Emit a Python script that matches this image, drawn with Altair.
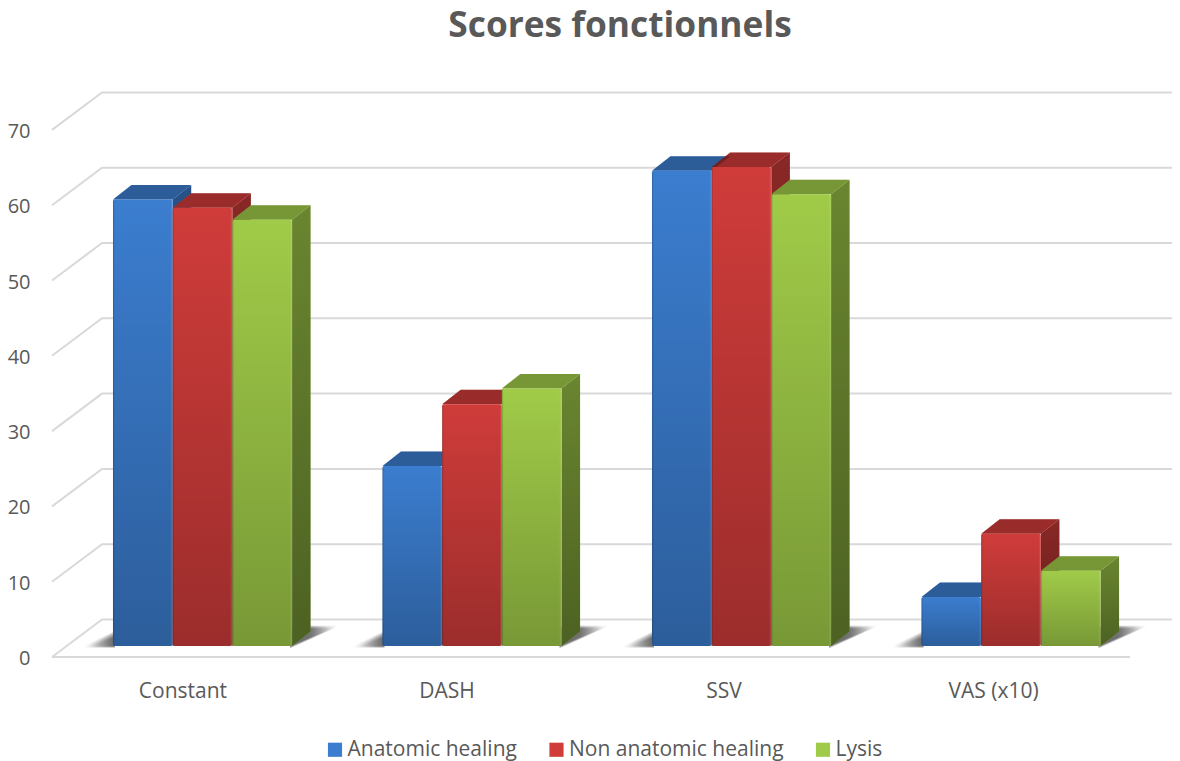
import altair as alt
import pandas as pd

categories = ["Constant", "DASH", "SSV", "VAS (x10)"]
series = ["Anatomic healing", "Non anatomic healing", "Lysis"]
anatomic = [59.3, 23.9, 63.1, 6.5]
non_anatomic = [58.2, 32.1, 63.6, 14.9]
lysis = [56.6, 34.2, 60.0, 10.0]
colors = ["#3B7DCF", "#CF3C3A", "#A0CB48"]
grid_values = [0, 10, 20, 30, 40, 50, 60, 70]
label_positions = [0.484, 1.464, 2.492, 3.492]

FONT = "Open Sans"
TEXT = "#595959"
PX_X = 269.5      # pixels per category
PX_Y = 7.53       # pixels per score unit
VIEW_W, VIEW_H = 1120, 589
START, BAR_W = 0.2263, 0.2215
DX, DY = 18.5 / PX_X, 14.5 / PX_Y     # bar depth
BASE = 11 / PX_Y                      # bar base above the front floor edge
WALL_X, WALL_Y = 50 / PX_X, 37.5 / PX_Y

x_scale = alt.Scale(domain=[0, VIEW_W / PX_X], nice=False, zero=False)
y_scale = alt.Scale(domain=[0, VIEW_H / PX_Y], nice=False, zero=False)
color_scale = alt.Scale(domain=series, range=colors)

label_expr = (
    "datum.value < 1 ? 'Constant' : datum.value < 2 ? 'DASH' : "
    "datum.value < 3 ? 'SSV' : 'VAS (x10)'"
)
x_axis = alt.Axis(
    values=label_positions, labelExpr=label_expr, domain=False, ticks=False, grid=False,
    labelFont=FONT, labelFontSize=21, labelColor=TEXT, labelPadding=23, labelFlush=False,
    labelOverlap=False, title=None)
y_axis = alt.Axis(
    values=grid_values, domain=False, ticks=False, grid=False,
    labelFont=FONT, labelFontSize=20, labelColor=TEXT, labelPadding=22, labelOffset=1.5, title=None)
legend = alt.Legend(
    title=None, orient="none", legendX=272.5, legendY=671, direction="horizontal", columns=3,
    columnPadding=28.5, symbolType="square", symbolSize=200, symbolStrokeWidth=0, symbolOpacity=1,
    labelFont=FONT, labelFontSize=21, labelColor=TEXT, labelOffset=2, labelLimit=400)


def gradient(stops, horizontal=False):
    return {
        "gradient": "linear",
        "x1": 0, "y1": 0,
        "x2": 1 if horizontal else 0,
        "y2": 0 if horizontal else 1,
        "stops": [{"offset": o, "color": c} for o, c in stops],
    }


fronts, sides, tops, shadows, grid = [], [], [], [], []
for c, cat in enumerate(categories):
    for s, values in enumerate([anatomic, non_anatomic, lysis]):
        x0 = c + START + s * BAR_W
        x1 = x0 + BAR_W
        b = BASE
        h = values[c] + BASE
        bar = f"{c}-{s}"
        fronts.append(dict(bar=bar, series=series[s], x0=x0, x1=x1, y0=b, y1=h))
        sides += [
            dict(bar=bar, series=series[s], x=x1, y0=b, y1=h),
            dict(bar=bar, series=series[s], x=x1 + DX, y0=b + DY, y1=h + DY),
        ]
        tops += [
            dict(bar=bar, series=series[s], x=x0, y0=h, y1=h),
            dict(bar=bar, series=series[s], x=x0 + DX, y0=h, y1=h + DY),
            dict(bar=bar, series=series[s], x=x1, y0=h, y1=h + DY),
            dict(bar=bar, series=series[s], x=x1 + DX, y0=h + DY, y1=h + DY),
        ]
    g0 = c + START
    g1 = g0 + 3 * BAR_W
    # soft floor shadow: nested wedges of low opacity
    for k, spread in enumerate([-3, -2, -1, 0, 1, 2, 3]):
        shadows += [
            dict(part=f"L{c}-{k}", side="L", x=g0 - (26 + spread * 1.5) / PX_X,
                 y0=BASE - (1 + spread * 0.3) / PX_Y, y1=BASE - 0.5 / PX_Y),
            dict(part=f"L{c}-{k}", side="L", x=g0 + 2 / PX_X,
                 y0=BASE - (1 + spread * 0.3) / PX_Y, y1=BASE + (12 + spread) / PX_Y),
            dict(part=f"R{c}-{k}", side="R", x=g1 - 2 / PX_X,
                 y0=BASE - (spread + 3) * 0.4 / PX_Y, y1=BASE + (19 + spread * 0.5) / PX_Y),
            dict(part=f"R{c}-{k}", side="R", x=g1 + (43 + spread * 1.5) / PX_X,
                 y0=BASE + (18.5 + spread * 0.5) / PX_Y, y1=BASE + (19 + spread * 0.5) / PX_Y),
        ]

end = VIEW_W / PX_X
for v in grid_values:
    grid += [
        dict(v=v, x=0, y=v),
        dict(v=v, x=WALL_X, y=v + WALL_Y),
        dict(v=v, x=end, y=v + WALL_Y),
    ]
floor = pd.DataFrame([dict(x=0, x2=4, y=0)])

front_df = pd.DataFrame(fronts)
side_df = pd.DataFrame(sides)
top_df = pd.DataFrame(tops)
shadow_df = pd.DataFrame(shadows)
grid_df = pd.DataFrame(grid)

X = lambda f: alt.X(f, type="quantitative", scale=x_scale, axis=x_axis)
Y = lambda f: alt.Y(f, type="quantitative", scale=y_scale, axis=y_axis, stack=None)
COLOR = alt.Color("series:N", scale=color_scale, legend=legend)

axes = alt.Chart(floor).mark_rule(color="#D9D9D9", strokeWidth=2).encode(
    x=X("x"), x2="x2:Q", y=Y("y"),
)

grid_layer = alt.Chart(grid_df).mark_line(color="#D9D9D9", strokeWidth=2, interpolate="linear").encode(
    x=X("x"), y=Y("y"), detail="v:N", order="x:Q"
)

shadow_layers = []
for side, stops in [
    ("L", [(0, "rgba(0,0,0,0)"), (0.9, "rgba(0,0,0,0.11)"), (1, "rgba(0,0,0,0.11)")]),
    ("R", [(0, "rgba(0,0,0,0.12)"), (0.45, "rgba(0,0,0,0.11)"), (1, "rgba(0,0,0,0)")]),
]:
    shadow_layers.append(
        alt.Chart(shadow_df[shadow_df.side == side])
        .mark_area(fill=gradient(stops, horizontal=True), orient="vertical")
        .encode(x=X("x"), y=Y("y0"), y2="y1:Q", detail="part:N")
    )


def face(df, stops, bar=False):
    if bar:
        base = alt.Chart(df).mark_bar(cornerRadius=2).encode(
            x=X("x0"), x2="x1:Q", y=Y("y0"), y2="y1:Q", color=COLOR,
        )
        over = alt.Chart(df).mark_bar(cornerRadius=2, fill=gradient(stops)).encode(
            x=X("x0"), x2="x1:Q", y=Y("y0"), y2="y1:Q",
        )
    else:
        base = alt.Chart(df).mark_area(orient="vertical").encode(
            x=X("x"), y=Y("y0"), y2="y1:Q", detail="bar:N", color=COLOR,
        )
        over = alt.Chart(df).mark_area(orient="vertical", fill=gradient(stops)).encode(
            x=X("x"), y=Y("y0"), y2="y1:Q", detail="bar:N",
        )
    return [base, over]


side_layers = face(side_df, [(0, "rgba(0,0,0,0.34)"), (1, "rgba(0,0,0,0.52)")])
top_layers = face(top_df, [(0, "rgba(0,0,0,0.26)"), (1, "rgba(0,0,0,0.26)")])
front_layers = face(front_df, [(0, "rgba(0,0,0,0)"), (1, "rgba(0,0,0,0.25)")], bar=True)
bevel = alt.Chart(front_df).mark_bar(
    cornerRadius=2,
    fill=gradient([(0, "rgba(0,0,0,0.22)"), (0.03, "rgba(0,0,0,0)"),
                   (0.96, "rgba(255,255,255,0)"), (1, "rgba(255,255,255,0.14)")], horizontal=True),
).encode(x=X("x0"), x2="x1:Q", y=Y("y0"), y2="y1:Q")

chart = alt.layer(
    grid_layer, axes, *shadow_layers, *side_layers, *top_layers, *front_layers, bevel
).properties(
    width=VIEW_W,
    height=VIEW_H,
    background="white",
    padding={"left": 44, "top": 60, "right": 0, "bottom": 104},
    autosize="none",
    title=alt.TitleParams(
        "Scores fonctionnels", font=FONT, fontSize=35.3, fontWeight="bold", color=TEXT,
        anchor="middle", frame="group", offset=24, dx=8,
    ),
).configure_view(stroke=None)

chart.save("out.html", embed_options={"renderer": "svg", "actions": False})
